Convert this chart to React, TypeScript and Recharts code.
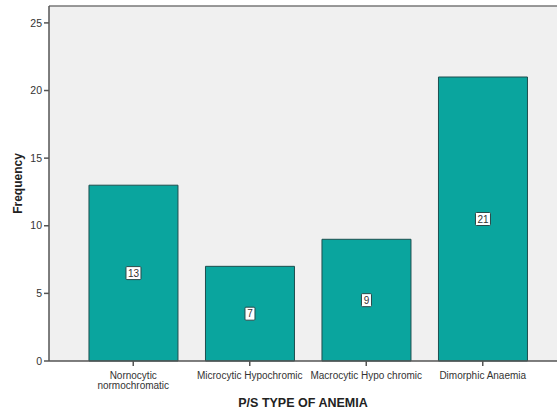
import React from "react";
import { BarChart, Bar, XAxis, YAxis, CartesianGrid, LabelList, ReferenceLine } from "recharts";

const categories = ["Nornocytic normochromatic", "Microcytic Hypochromic", "Macrocytic Hypo chromic", "Dimorphic Anaemia"];
const frequencies = [13, 7, 9, 21];
const yTicks = [0, 5, 10, 15, 20, 25];
const tickLines: Record<string, string[]> = {
  "Nornocytic normochromatic": ["Nornocytic", "normochromatic"],
};

const data = categories.map((c, i) => ({ name: c, value: frequencies[i] }));

const XTick = (props: any) => {
  const { x, y, payload } = props;
  const lines = tickLines[payload.value] || [payload.value];
  return (
    <g transform={`translate(${x},${y})`}>
      <text textAnchor="middle" fontFamily="Arial, Liberation Sans, sans-serif" fontSize={10} fill="#333">
        {lines.map((l, i) => (
          <tspan key={i} x={0} dy={i === 0 ? 11 : 10}>{l}</tspan>
        ))}
      </text>
    </g>
  );
};

const BoxLabel = (props: any) => {
  const { x, y, width, height, value } = props;
  const cx = x + width / 2;
  const cy = y + height / 2;
  const s = String(value);
  const w = s.length > 1 ? 15 : 10;
  const h = 13;
  return (
    <g>
      <rect x={cx - w / 2} y={cy - h / 2} width={w} height={h} fill="#fff" stroke="#2a4a4a" strokeWidth={1} rx={1} />
      <text x={cx} y={cy + 3.5} textAnchor="middle" fontFamily="Arial, Liberation Sans, sans-serif" fontSize={10} fill="#333">{s}</text>
    </g>
  );
};

export default function App() {
  return (
    <div style={{ position: "absolute", left: 0, top: 0, width: 557, height: 410, background: "#fff" }}>
      <BarChart width={557} height={410} data={data} margin={{ top: 6, right: 0, bottom: 0, left: 0 }} barCategoryGap="12%">
        <CartesianGrid fill="#f0f0f0" horizontal={false} vertical={false} />
        <ReferenceLine y={26.25} stroke="#777" strokeWidth={1.5} ifOverflow="extendDomain" />
        <XAxis
          dataKey="name"
          height={49}
          tick={<XTick />}
          interval={0}
          padding={{ left: 26, right: 16 }}
          stroke="#555"
          strokeWidth={1.5}
          tickLine={{ stroke: "#555" }}
          tickSize={5}
          label={{ value: "P/S TYPE OF ANEMIA", position: "insideBottom", offset: 3, style: { fontFamily: "Arial, Liberation Sans, sans-serif", fontWeight: "bold", fontSize: 12.5, fill: "#222" } }}
        />
        <YAxis
          width={49}
          domain={[0, 26.25]}
          ticks={yTicks}
          stroke="#555"
          strokeWidth={1.5}
          tickSize={5}
          tick={{ fontFamily: "Arial, Liberation Sans, sans-serif", fontSize: 10.5, fill: "#333" }}
          label={{ value: "Frequency", angle: -90, position: "insideLeft", offset: 18, style: { textAnchor: "middle", fontFamily: "Arial, Liberation Sans, sans-serif", fontWeight: "bold", fontSize: 12, fill: "#222" } }}
        />
        <Bar dataKey="value" fill="#0aa59e" stroke="#1d4f4f" strokeWidth={1} isAnimationActive={false}>
          <LabelList dataKey="value" content={<BoxLabel />} />
        </Bar>
      </BarChart>
    </div>
  );
}
